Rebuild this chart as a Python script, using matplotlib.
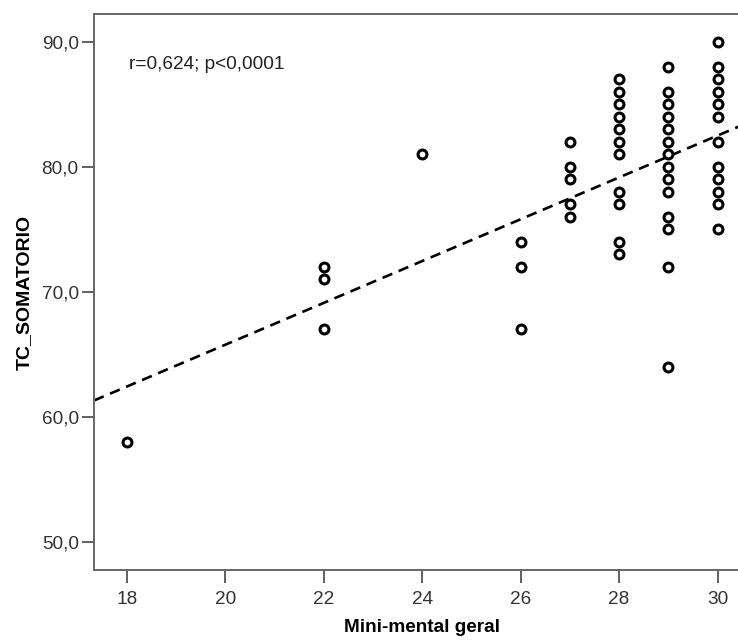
import numpy as np
import matplotlib
matplotlib.use('Agg')
import matplotlib.pyplot as plt

plt.rcParams['font.family'] = ['Liberation Sans', 'DejaVu Sans']

# Mini-mental geral (x) and TC_SOMATORIO (y)
mmse_18 = [58]
mmse_22 = [72, 71, 67]
mmse_24 = [81]
mmse_26 = [74, 72, 67]
mmse_27 = [82, 80, 79, 77, 76]
mmse_28 = [87, 86, 85, 84, 83, 82, 81, 78, 77, 74, 73]
mmse_29 = [88, 86, 85, 84, 83, 82, 81, 80, 79, 78, 76, 75, 72, 64]
mmse_30 = [90, 88, 87, 86, 85, 84, 82, 80, 79, 78, 77, 75]

groups = {18: mmse_18, 22: mmse_22, 24: mmse_24, 26: mmse_26,
          27: mmse_27, 28: mmse_28, 29: mmse_29, 30: mmse_30}

x = np.array([k for k, v in groups.items() for _ in v], dtype=float)
y = np.array([val for v in groups.values() for val in v], dtype=float)

xticks = [18, 20, 22, 24, 26, 28, 30]
yticks = [50, 60, 70, 80, 90]
annot = 'r=0,624; p<0,0001'

fig = plt.figure(figsize=(7.38, 6.44), dpi=100)
ax = fig.add_axes([94 / 738, 1 - 570 / 644, (750 - 94) / 738, (570 - 14) / 644])

ax.plot(x, y, linestyle='none', marker='o', markersize=6.4, markerfacecolor='white',
        markeredgecolor='black', markeredgewidth=2.2, zorder=3)

# linear fit line
slope, intercept = np.polyfit(x, y, 1)
xl = np.array([17.33, 30.66])
ax.plot(xl, intercept + slope * xl, color='black', linestyle=(0, (4, 2.6)), linewidth=1.9, zorder=2)

ax.set_xlim(17.33, 30.66)
ax.set_ylim(47.76, 92.24)
ax.set_xticks(xticks)
ax.set_yticks(yticks)
ax.set_yticklabels([f'{v:.1f}'.replace('.', ',') for v in yticks])
ax.tick_params(axis='both', labelsize=13.7, colors='#555555', labelcolor='#333333',
               length=9, width=1.3, direction='out')
ax.tick_params(axis='x', pad=6)
ax.tick_params(axis='y', pad=2)

for s in ax.spines.values():
    s.set_color('#666666')
    s.set_linewidth(1.4)

ax.text(18.04, 88.16, annot, ha='left', va='center', fontsize=13.7, color='#222222')

ax.set_xlabel('Mini-mental geral', fontsize=13.7, fontweight='bold', va='center')
ax.set_ylabel('TC_SOMATORIO', fontsize=14, fontweight='bold', va='center')
ax.xaxis.set_label_coords(0.5, (570 - 628) / 556)
ax.yaxis.set_label_coords((24 - 94) / 656, 0.5)

fig.savefig('out.png', dpi=100)
